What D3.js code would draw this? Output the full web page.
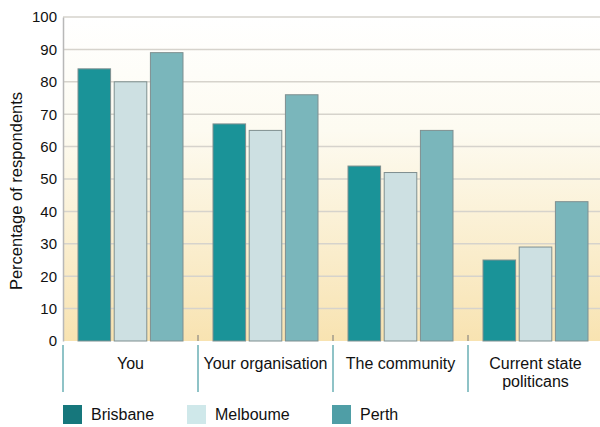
<!DOCTYPE html>
<html>
<head>
<meta charset="utf-8">
<script src="https://cdn.jsdelivr.net/npm/d3@7"></script>
<style>
  body { margin: 0; background: #fff; }
  text { font-family: "Liberation Sans", Arial, sans-serif; fill: #111; }
</style>
</head>
<body>
<div id="chart"></div>
<script>
var categories = [["You"], ["Your organisation"], ["The community"], ["Current state", "politicans"]];
var seriesNames = ["Brisbane", "Melboume", "Perth"];
var brisbane = [84, 67, 54, 25];
var melbourne = [80, 65, 52, 29];
var perth = [89, 76, 65, 43];
var yTicks = [0, 10, 20, 30, 40, 50, 60, 70, 80, 90, 100];

var barColors = ["#1a9398", "#cde0e2", "#7ab6bb"];
var legendColors = ["#16777c", "#cfe8ea", "#4f9ea6"];

var margin = { top: 17, left: 63, right: 0, bottom: 86 },
  width = 600 - margin.left - margin.right,
  height = 427 - margin.top - margin.bottom;

var svg = d3.select("#chart").append("svg")
            .attr("width", 600)
            .attr("height", 427);

var defs = svg.append("defs");
var grad = defs.append("linearGradient")
               .attr("id", "bg")
               .attr("x1", 0).attr("y1", 0).attr("x2", 0).attr("y2", 1);
grad.append("stop").attr("offset", "0%").attr("stop-color", "#ffffff");
grad.append("stop").attr("offset", "35%").attr("stop-color", "#fdfbf1");
grad.append("stop").attr("offset", "100%").attr("stop-color", "#f8e3b1");

var g = svg.append("g")
           .attr("transform", "translate(" + margin.left + "," + margin.top + ")");

var x0 = d3.scaleBand()
           .domain(d3.range(categories.length))
           .range([0, 540])
           .paddingInner(0)
           .paddingOuter(0);

var x1 = d3.scaleBand()
           .domain(d3.range(seriesNames.length))
           .range([15, x0.bandwidth() - 15])
           .paddingInner(0.1)
           .paddingOuter(0);

var y = d3.scaleLinear()
          .domain([0, 100])
          .range([height, 0]);

g.append("rect")
  .attr("width", width)
  .attr("height", height)
  .attr("fill", "url(#bg)");

// gridlines
g.selectAll(".grid")
  .data(yTicks.filter(d => d > 0))
  .enter().append("line")
  .attr("x1", 0).attr("x2", width)
  .attr("y1", d => y(d)).attr("y2", d => y(d))
  .attr("stroke", "#d6d3cc")
  .attr("stroke-width", 1.5);

// y axis
var yAxis = d3.axisLeft(y).tickValues(yTicks).tickSize(0).tickPadding(6);
var ya = g.append("g").call(yAxis);
ya.select(".domain").attr("stroke", "#b8b8b8").attr("stroke-width", 1.5);
ya.selectAll("text")
  .style("font-family", "Liberation Sans, Arial, sans-serif")
  .style("font-size", "15px")
  .attr("fill", "#111");

svg.append("text")
   .attr("transform", "translate(22,191) rotate(-90)")
   .attr("text-anchor", "middle")
   .style("font-size", "16.5px")
   .text("Percentage of respondents");

var series = [brisbane, melbourne, perth];

var groups = g.selectAll(".group")
  .data(categories)
  .enter().append("g")
  .attr("transform", (d, i) => "translate(" + x0(i) + ",0)");

groups.selectAll("rect")
  .data((d, i) => series.map((s, j) => ({ j: j, v: s[i] })))
  .enter().append("rect")
  .attr("x", d => x1(d.j))
  .attr("y", d => y(d.v))
  .attr("width", x1.bandwidth())
  .attr("height", d => height - y(d.v))
  .attr("fill", d => barColors[d.j])
  .attr("stroke", "#7f8f90")
  .attr("stroke-width", 1);

// small ticks on baseline between groups
g.selectAll(".sep")
  .data(d3.range(1, categories.length))
  .enter().append("line")
  .attr("x1", d => x0(d)).attr("x2", d => x0(d))
  .attr("y1", height - 6).attr("y2", height)
  .attr("stroke", "#777")
  .attr("stroke-width", 1);

// divider lines below axis
g.selectAll(".div")
  .data(d3.range(0, categories.length))
  .enter().append("line")
  .attr("x1", d => x0(d)).attr("x2", d => x0(d))
  .attr("y1", height + 4).attr("y2", height + 51)
  .attr("stroke", "#8fc3c7")
  .attr("stroke-width", 2);

// category labels
var labels = g.selectAll(".cat")
  .data(categories)
  .enter().append("text")
  .attr("text-anchor", "middle")
  .attr("x", (d, i) => x0(i) + x0.bandwidth() / 2)
  .attr("y", height + 28)
  .style("font-size", "16px");

labels.selectAll("tspan")
  .data(d => d)
  .enter().append("tspan")
  .attr("x", function() { return d3.select(this.parentNode).attr("x"); })
  .attr("dy", (d, i) => i === 0 ? 0 : 18)
  .text(d => d);

// legend
var legendX = [63, 187, 332];
var legend = svg.selectAll(".legend")
  .data(seriesNames)
  .enter().append("g")
  .attr("transform", (d, i) => "translate(" + legendX[i] + ",405)");

legend.append("rect")
  .attr("width", 19)
  .attr("height", 19)
  .attr("fill", (d, i) => legendColors[i]);

legend.append("text")
  .attr("x", 28)
  .attr("y", 15)
  .style("font-size", "16px")
  .text(d => d);
</script>
</body>
</html>
